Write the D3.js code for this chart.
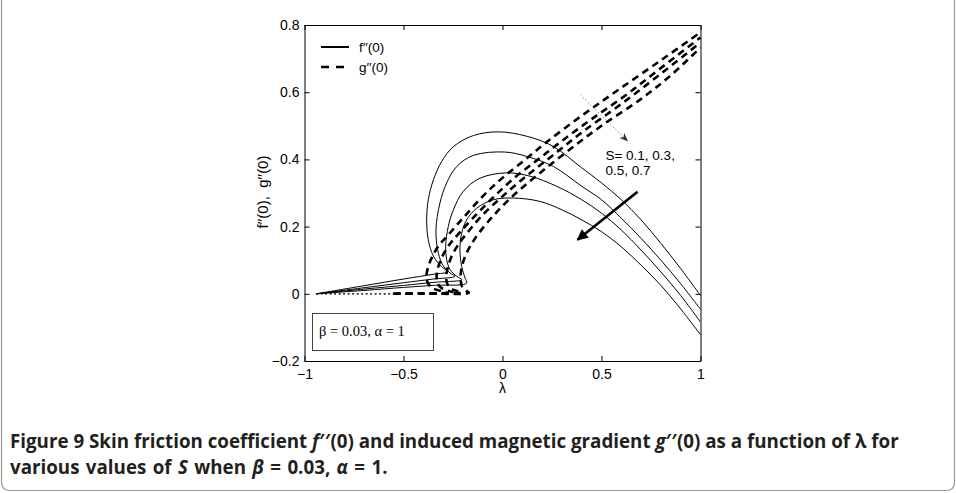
<!DOCTYPE html>
<html>
<head>
<meta charset="utf-8">
<script src="https://cdn.jsdelivr.net/npm/d3@7"></script>
<style>
  body { margin: 0; background: #fff; }
  svg { display: block; }
</style>
</head>
<body>
<svg id="chart" width="956" height="493"></svg>
<script>
// S values, one curve of each kind per value
const sValues = [0.1, 0.3, 0.5, 0.7];

// f''(0) against lambda, lower branch -> fold -> upper branch
const fCurves = [
  [[-0.94,0],[-0.7,0.024],[-0.5,0.044],[-0.35,0.058],[-0.274,0.066],
   [-0.307,0.08],[-0.349,0.112],[-0.375,0.161],[-0.383,0.22],[-0.375,0.28],[-0.349,0.339],
   [-0.307,0.394],[-0.248,0.438],[-0.147,0.471],[-0.021,0.482],[0.122,0.469],[0.255,0.439],
   [0.4,0.375],[0.5,0.33],[0.6,0.28],[0.7,0.22],[0.8,0.15],[0.9,0.075],[1.0,-0.005]],
  [[-0.94,0],[-0.7,0.018],[-0.5,0.033],[-0.35,0.044],[-0.24,0.052],
   [-0.265,0.062],[-0.299,0.083],[-0.324,0.121],[-0.336,0.19],[-0.316,0.27],[-0.282,0.33],
   [-0.231,0.379],[-0.147,0.412],[0.01,0.422],[0.122,0.409],[0.257,0.379],
   [0.4,0.32],[0.5,0.28],[0.6,0.225],[0.7,0.165],[0.8,0.1],[0.9,0.03],[1.0,-0.046]],
  [[-0.94,0],[-0.7,0.014],[-0.5,0.025],[-0.35,0.034],[-0.206,0.042],
   [-0.231,0.052],[-0.265,0.072],[-0.282,0.102],[-0.287,0.141],[-0.274,0.2],[-0.248,0.25],
   [-0.198,0.305],[-0.114,0.344],[0.02,0.36],[0.139,0.35],[0.274,0.32],
   [0.4,0.28],[0.5,0.24],[0.6,0.19],[0.7,0.13],[0.8,0.065],[0.9,-0.005],[1.0,-0.084]],
  [[-0.94,0],[-0.7,0.01],[-0.5,0.019],[-0.35,0.025],[-0.181,0.032],
   [-0.189,0.047],[-0.206,0.081],[-0.215,0.131],[-0.206,0.181],[-0.181,0.22],[-0.13,0.255],
   [-0.046,0.28],[0.055,0.285],[0.189,0.275],[0.3,0.25],
   [0.4,0.22],[0.5,0.185],[0.6,0.14],[0.7,0.085],[0.8,0.025],[0.9,-0.045],[1.0,-0.122]]
];

// g''(0) against lambda, same branches
const gCurves = [
  [[-0.94,0],[-0.55,0],[-0.4,0.001],[-0.28,0.003],[-0.31,0.008],[-0.35,0.016],
   [-0.375,0.03],[-0.384,0.05],[-0.378,0.075],[-0.355,0.11],[-0.32,0.145],[-0.273,0.176],
   [-0.2,0.225],[-0.1,0.29],[0.0,0.345],[0.116,0.4],[0.226,0.453],[0.4,0.53],[0.58,0.605],
   [0.8,0.695],[1.0,0.778]],
  [[-0.94,0],[-0.55,0],[-0.4,0.001],[-0.245,0.003],[-0.27,0.008],[-0.305,0.016],[-0.327,0.03],
   [-0.333,0.05],[-0.327,0.075],[-0.305,0.11],[-0.27,0.145],[-0.22,0.18],[-0.15,0.225],
   [-0.05,0.285],[0.06,0.345],[0.18,0.4],[0.3,0.455],[0.45,0.52],[0.62,0.59],[0.8,0.672],
   [1.0,0.763]],
  [[-0.94,0],[-0.55,0],[-0.4,0.001],[-0.205,0.003],[-0.23,0.008],[-0.26,0.016],[-0.279,0.03],
   [-0.284,0.05],[-0.278,0.075],[-0.258,0.11],[-0.225,0.145],[-0.18,0.18],[-0.1,0.235],
   [0.0,0.29],[0.12,0.35],[0.25,0.41],[0.4,0.48],[0.6,0.565],[0.8,0.655],[1.0,0.748]],
  [[-0.94,0],[-0.55,0],[-0.4,0.001],[-0.17,0.003],[-0.185,0.01],[-0.203,0.02],[-0.21,0.035],
   [-0.212,0.05],[-0.207,0.075],[-0.19,0.11],[-0.16,0.145],[-0.12,0.18],[-0.05,0.23],
   [0.05,0.29],[0.18,0.355],[0.33,0.425],[0.5,0.5],[0.7,0.58],[0.85,0.65],[1.0,0.733]]
];

const xTicks = [-1, -0.5, 0, 0.5, 1];
const yTicks = [-0.2, 0, 0.2, 0.4, 0.6, 0.8];

const svg = d3.select("#chart");

// outer figure frame (top edge is cut off)
svg.append("path")
  .attr("d", "M1.5,-5 L1.5,482 Q1.5,490.5 10,490.5 L946,490.5 Q954.5,490.5 954.5,482 L954.5,-5")
  .attr("fill", "none")
  .attr("stroke", "#9a9a9a")
  .attr("stroke-width", 1.2);

const x = d3.scaleLinear().domain([-1, 1]).range([304.5, 700.5]);
const y = d3.scaleLinear().domain([-0.2, 0.8]).range([361, 25]);

const fmt = d => d === 0 ? "0" : String(d).replace("-", "\u2212");

const tickFont = "Liberation Sans, Arial, sans-serif";

function styleAxis(g) {
  g.selectAll("path.domain").attr("stroke", "#000").attr("stroke-width", 1);
  g.selectAll(".tick line").attr("stroke", "#000");
  g.selectAll("text").attr("font-family", tickFont).attr("font-size", 14).attr("fill", "#000");
}

svg.append("g")
  .attr("transform", `translate(0,${y(-0.2)})`)
  .call(d3.axisBottom(x).tickValues(xTicks).tickFormat(fmt).tickSizeInner(-5).tickSizeOuter(0).tickPadding(8))
  .call(styleAxis);

svg.append("g")
  .attr("transform", `translate(0,${y(0.8)})`)
  .call(d3.axisTop(x).tickValues(xTicks).tickFormat("").tickSizeInner(-5).tickSizeOuter(0))
  .call(styleAxis);

svg.append("g")
  .attr("transform", `translate(${x(-1)},0)`)
  .call(d3.axisLeft(y).tickValues(yTicks).tickFormat(fmt).tickSizeInner(-5).tickSizeOuter(0).tickPadding(5))
  .call(styleAxis);

svg.append("g")
  .attr("transform", `translate(${x(1)},0)`)
  .call(d3.axisRight(y).tickValues(yTicks).tickFormat("").tickSizeInner(-5).tickSizeOuter(0))
  .call(styleAxis);

const line = d3.line()
  .x(d => x(d[0]))
  .y(d => y(d[1]))
  .curve(d3.curveCatmullRom.alpha(0.5));

const plot = svg.append("g");

// thin dotted start of the g'' lower branches
gCurves.forEach(pts => {
  plot.append("path")
    .attr("d", line(pts.filter(p => p[0] <= -0.55)))
    .attr("fill", "none")
    .attr("stroke", "#333")
    .attr("stroke-width", 1)
    .attr("stroke-dasharray", "1.5,3");
});

// g''(0) dashed
gCurves.forEach(pts => {
  plot.append("path")
    .attr("d", line(pts.filter(p => p[0] >= -0.55 || p[1] > 0)))
    .attr("fill", "none")
    .attr("stroke", "#000")
    .attr("stroke-width", 2.6)
    .attr("stroke-dasharray", "7,5");
});

// f''(0) solid
fCurves.forEach(pts => {
  plot.append("path")
    .attr("d", line(pts))
    .attr("fill", "none")
    .attr("stroke", "#000")
    .attr("stroke-width", 1);
});

// legend
const legend = svg.append("g").attr("font-family", tickFont).attr("font-size", 13.5);
legend.append("line").attr("x1", 321).attr("x2", 349).attr("y1", 47).attr("y2", 47)
  .attr("stroke", "#000").attr("stroke-width", 2);
legend.append("text").attr("x", 359).attr("y", 52).text("f\u2032\u2032(0)");
legend.append("line").attr("x1", 321).attr("x2", 350).attr("y1", 67).attr("y2", 67)
  .attr("stroke", "#000").attr("stroke-width", 2.6).attr("stroke-dasharray", "8,7");
legend.append("text").attr("x", 359).attr("y", 72).text("g\u2032\u2032(0)");

// parameter box
svg.append("rect")
  .attr("x", 312.5).attr("y", 313.5).attr("width", 121).attr("height", 37)
  .attr("fill", "#fff").attr("stroke", "#444").attr("stroke-width", 1);
svg.append("text")
  .attr("x", 319).attr("y", 336)
  .attr("font-family", "Liberation Serif, Times New Roman, serif")
  .attr("font-size", 14.5)
  .text("\u03b2 = 0.03, \u03b1 = 1");

// S annotation
const defs = svg.append("defs");
defs.append("marker")
  .attr("id", "head").attr("viewBox", "0 0 10 10").attr("refX", 9).attr("refY", 5)
  .attr("markerWidth", 14).attr("markerHeight", 11).attr("markerUnits", "userSpaceOnUse")
  .attr("orient", "auto")
  .append("path").attr("d", "M0,0 L10,5 L0,10 Z").attr("fill", "#000");
defs.append("marker")
  .attr("id", "openhead").attr("viewBox", "0 0 10 10").attr("refX", 9).attr("refY", 5)
  .attr("markerWidth", 9).attr("markerHeight", 9).attr("markerUnits", "userSpaceOnUse")
  .attr("orient", "auto")
  .append("path").attr("d", "M0,1 L10,5 L0,9 L3,5 Z").attr("fill", "#333");

svg.append("line")
  .attr("x1", x(0.682)).attr("y1", y(0.304)).attr("x2", x(0.379)).attr("y2", y(0.161))
  .attr("stroke", "#000").attr("stroke-width", 2.6).attr("marker-end", "url(#head)");

svg.append("line")
  .attr("x1", x(0.394)).attr("y1", y(0.592)).attr("x2", x(0.631)).attr("y2", y(0.455))
  .attr("stroke", "#555").attr("stroke-width", 1).attr("stroke-dasharray", "1,2.5")
  .attr("marker-end", "url(#openhead)");

const sText = svg.append("text").attr("font-family", tickFont).attr("font-size", 13.5);
sText.append("tspan").attr("x", x(0.52)).attr("y", y(0.399)).text("S= " + sValues.slice(0, 2).join(", ") + ",");
sText.append("tspan").attr("x", x(0.52)).attr("y", y(0.354)).text(sValues.slice(2).join(", "));

// axis titles
svg.append("text")
  .attr("x", x(0)).attr("y", 393)
  .attr("text-anchor", "middle")
  .attr("font-family", tickFont).attr("font-size", 14)
  .text("\u03bb");

svg.append("text")
  .attr("transform", `translate(268,192) rotate(-90)`)
  .attr("text-anchor", "middle")
  .attr("font-family", tickFont).attr("font-size", 15)
  .attr("xml:space", "preserve")
  .text("f\u2032\u2032(0),  g\u2032\u2032(0)");

// caption, squeezed horizontally to look like a condensed face
const cap = svg.append("g")
  .attr("font-family", "Open Sans, sans-serif")
  .attr("font-weight", 700)
  .attr("font-size", 19)
  .attr("fill", "#231f20");

const c1 = cap.append("text").attr("x", 0).attr("y", 0);
c1.append("tspan").text("Figure 9  Skin friction coefficient ");
c1.append("tspan").attr("font-style", "italic").text("f");
c1.append("tspan").text("\u2032\u2032(0) and induced magnetic gradient ");
c1.append("tspan").attr("font-style", "italic").text("g");
c1.append("tspan").text("\u2032\u2032(0) as a function of \u03bb for");

const c2 = cap.append("text").attr("x", 0).attr("y", 0).attr("word-spacing", 1.5);
c2.append("tspan").text("various values of ");
c2.append("tspan").attr("font-style", "italic").text("S");
c2.append("tspan").text(" when ");
c2.append("tspan").attr("font-style", "italic").text("\u03b2");
c2.append("tspan").text(" = 0.03, ");
c2.append("tspan").attr("font-style", "italic").text("\u03b1");
c2.append("tspan").text(" = 1.");

const k = 889 / c1.node().getComputedTextLength();
c1.attr("transform", `translate(10,448) scale(${k},1)`);
c2.attr("transform", `translate(10,474) scale(${k},1)`);
</script>
</body>
</html>
